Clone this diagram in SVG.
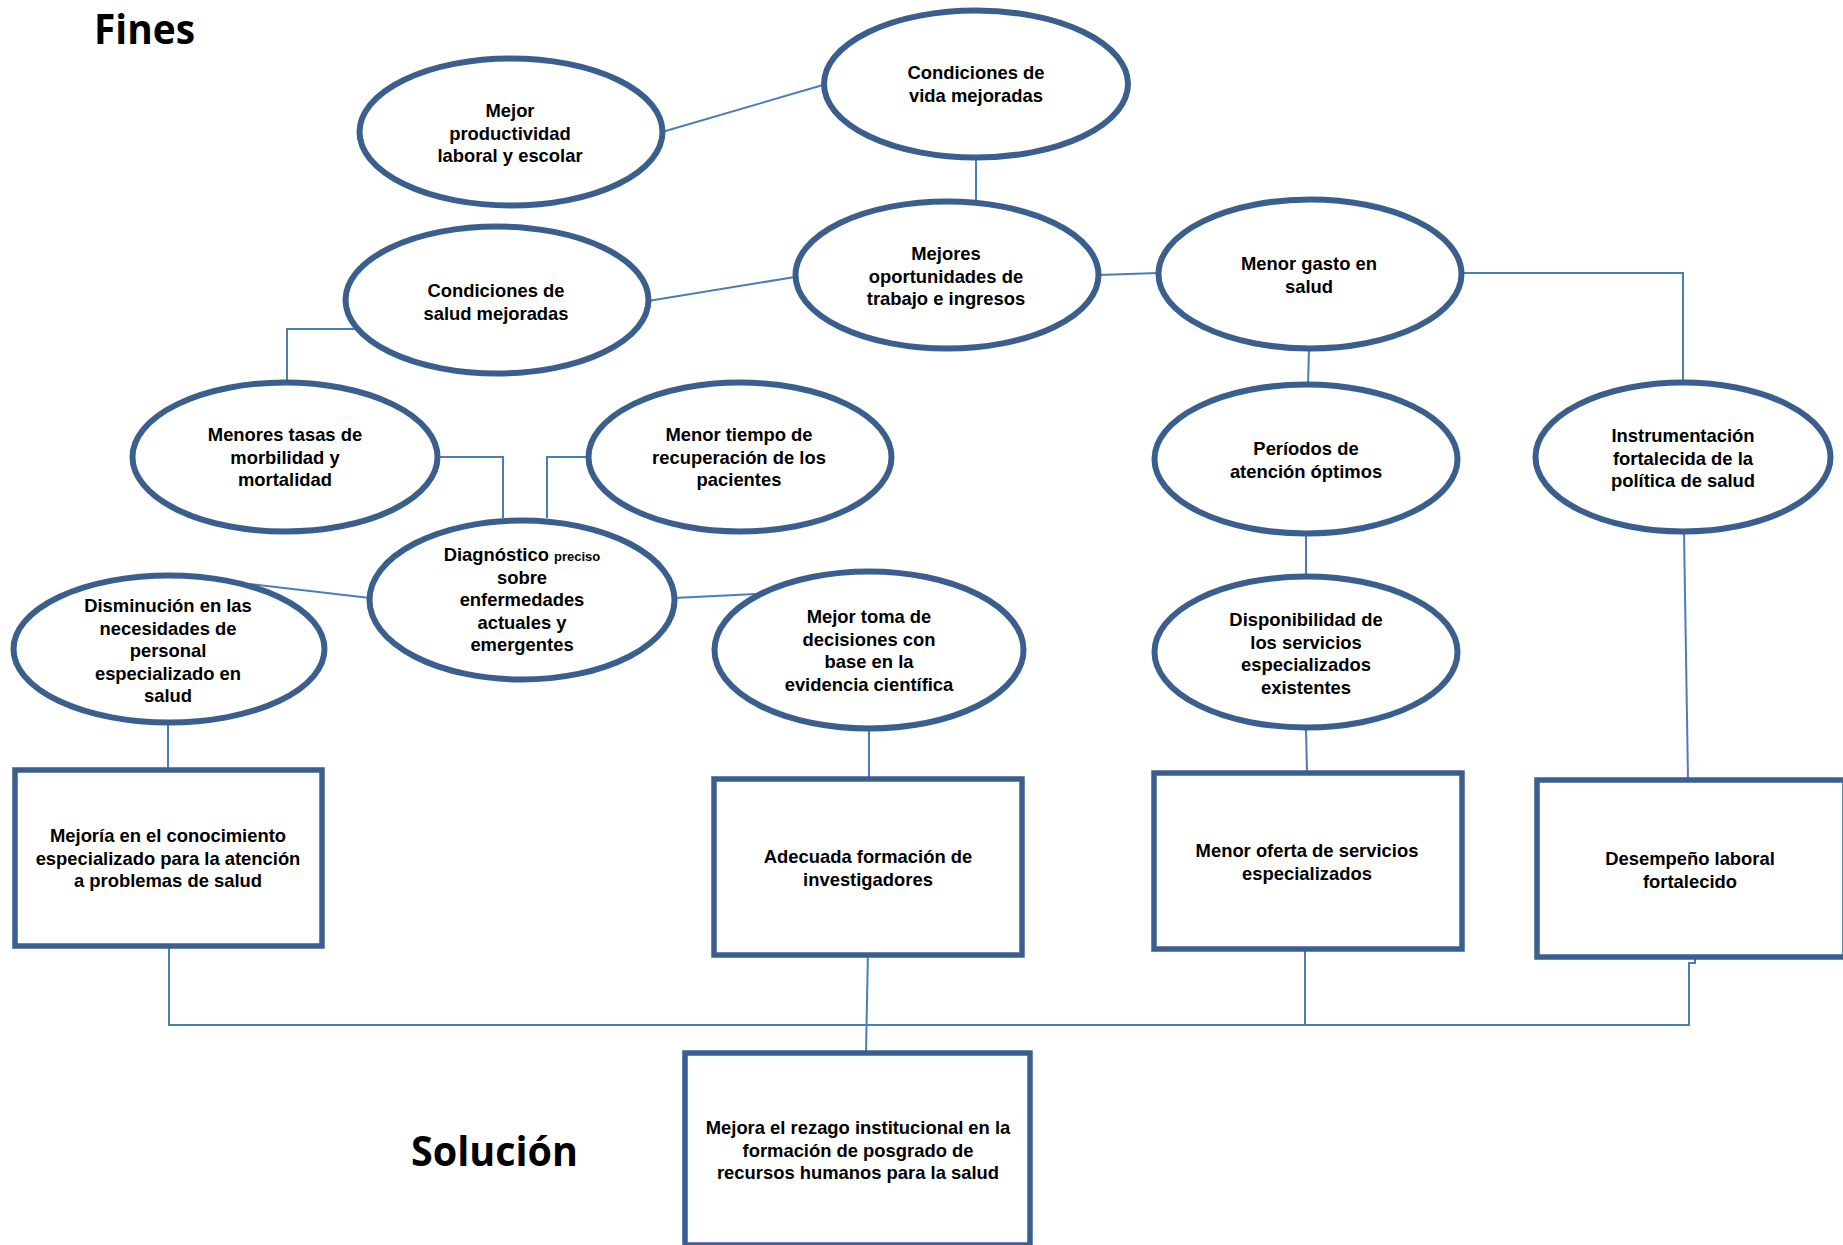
<svg xmlns="http://www.w3.org/2000/svg" width="1843" height="1245" viewBox="0 0 1843 1245">
<style>
.ell{fill:#fff;stroke:#3A5F8F;stroke-width:6}
.box{fill:#fff;stroke:#3A5F8F;stroke-width:5.5}
.conn{fill:none;stroke:#4A7EBB;stroke-width:2}
.t{font-family:"Liberation Sans",Arial,sans-serif;font-weight:bold;font-size:18.4px;text-anchor:middle;fill:#000}
.sm{font-size:13px}
.title{font-family:"Open Sans","Liberation Sans",sans-serif;font-weight:bold;font-size:42px;fill:#000}
</style>
<rect width="1843" height="1245" fill="#fff"/>
<g id="connectors">
<line class="conn" x1="662" y1="132" x2="823" y2="85"/>
<line class="conn" x1="976" y1="157" x2="976" y2="201"/>
<line class="conn" x1="648" y1="301" x2="795" y2="277"/>
<line class="conn" x1="1099" y1="275" x2="1158" y2="273"/>
<polyline class="conn" points="1461,273 1683,273 1683,383"/>
<line class="conn" x1="1309" y1="349" x2="1308" y2="385"/>
<polyline class="conn" points="354,329 287,329 287,383"/>
<polyline class="conn" points="437,457 503,457 503,518"/>
<polyline class="conn" points="588,457 547,457 547,518"/>
<line class="conn" x1="250" y1="584" x2="370" y2="598"/>
<line class="conn" x1="674" y1="598" x2="756" y2="594"/>
<line class="conn" x1="1306" y1="535" x2="1306" y2="577"/>
<line class="conn" x1="1684" y1="532" x2="1688" y2="779"/>
<line class="conn" x1="168" y1="724" x2="168" y2="770"/>
<line class="conn" x1="869" y1="729" x2="869" y2="778"/>
<line class="conn" x1="1306" y1="729" x2="1307" y2="772"/>
<polyline class="conn" points="169,947 169,1025 1689,1025 1689,963 1695,963 1695,959"/>
<line class="conn" x1="1305" y1="951" x2="1305" y2="1025"/>
<line class="conn" x1="868" y1="950" x2="866" y2="1052"/>
</g>
<g id="fines"><text class="title" x="94" y="44" textLength="101" lengthAdjust="spacingAndGlyphs">Fines</text></g>
<g id="solucion"><text class="title" x="411" y="1166" textLength="167" lengthAdjust="spacingAndGlyphs">Solución</text></g>
<g id="n-vida">
<ellipse class="ell" cx="976" cy="84" rx="152" ry="73.5"/>
<text class="t" x="976" y="79">Condiciones de<tspan x="976" dy="22.6">vida mejoradas</tspan></text>
</g>
<g id="n-productividad">
<ellipse class="ell" cx="511" cy="132" rx="151.5" ry="73.5"/>
<text class="t" x="510" y="117">Mejor<tspan x="510" dy="22.6">productividad</tspan><tspan x="510" dy="22.6">laboral y escolar</tspan></text>
</g>
<g id="n-oportunidades">
<ellipse class="ell" cx="947" cy="275" rx="151.5" ry="73.5"/>
<text class="t" x="946" y="260">Mejores<tspan x="946" dy="22.6">oportunidades de</tspan><tspan x="946" dy="22.6">trabajo e ingresos</tspan></text>
</g>
<g id="n-salud">
<ellipse class="ell" cx="497" cy="300" rx="151.5" ry="73.5"/>
<text class="t" x="496" y="297">Condiciones de<tspan x="496" dy="22.6">salud mejoradas</tspan></text>
</g>
<g id="n-gasto">
<ellipse class="ell" cx="1310" cy="274" rx="151.5" ry="74.5"/>
<text class="t" x="1309" y="270">Menor gasto en<tspan x="1309" dy="22.6">salud</tspan></text>
</g>
<g id="n-morbilidad">
<ellipse class="ell" cx="285" cy="457" rx="152.5" ry="74.5"/>
<text class="t" x="285" y="441">Menores tasas de<tspan x="285" dy="22.6">morbilidad y</tspan><tspan x="285" dy="22.6">mortalidad</tspan></text>
</g>
<g id="n-recuperacion">
<ellipse class="ell" cx="740" cy="457" rx="151.5" ry="74.5"/>
<text class="t" x="739" y="441">Menor tiempo de<tspan x="739" dy="22.6">recuperación de los</tspan><tspan x="739" dy="22.6">pacientes</tspan></text>
</g>
<g id="n-periodos">
<ellipse class="ell" cx="1306" cy="459" rx="151.5" ry="74.5"/>
<text class="t" x="1306" y="455">Períodos de<tspan x="1306" dy="22.6">atención óptimos</tspan></text>
</g>
<g id="n-instrumentacion">
<ellipse class="ell" cx="1683" cy="457" rx="147.5" ry="74.5"/>
<text class="t" x="1683" y="442">Instrumentación<tspan x="1683" dy="22.6">fortalecida de la</tspan><tspan x="1683" dy="22.6">política de salud</tspan></text>
</g>
<g id="n-diagnostico">
<ellipse class="ell" cx="522" cy="600" rx="152.5" ry="79.5"/>
<text class="t" x="522" y="561">Diagnóstico <tspan class="sm">preciso</tspan><tspan x="522" dy="22.6">sobre</tspan><tspan x="522" dy="22.6">enfermedades</tspan><tspan x="522" dy="22.6">actuales y</tspan><tspan x="522" dy="22.6">emergentes</tspan></text>
</g>
<g id="n-disminucion">
<ellipse class="ell" cx="169" cy="649" rx="155.5" ry="73.5"/>
<text class="t" x="168" y="612">Disminución en las<tspan x="168" dy="22.6">necesidades de</tspan><tspan x="168" dy="22.6">personal</tspan><tspan x="168" dy="22.6">especializado en</tspan><tspan x="168" dy="22.6">salud</tspan></text>
</g>
<g id="n-decisiones">
<ellipse class="ell" cx="869" cy="650" rx="154.5" ry="78.5"/>
<text class="t" x="869" y="623">Mejor toma de<tspan x="869" dy="22.6">decisiones con</tspan><tspan x="869" dy="22.6">base en la</tspan><tspan x="869" dy="22.6">evidencia científica</tspan></text>
</g>
<g id="n-disponibilidad">
<ellipse class="ell" cx="1306" cy="652" rx="151.5" ry="75.5"/>
<text class="t" x="1306" y="626">Disponibilidad de<tspan x="1306" dy="22.6">los servicios</tspan><tspan x="1306" dy="22.6">especializados</tspan><tspan x="1306" dy="22.6">existentes</tspan></text>
</g>
<g id="n-conocimiento">
<rect class="box" x="15" y="770" width="307" height="176"/>
<text class="t" x="168" y="842">Mejoría en el conocimiento<tspan x="168" dy="22.6">especializado para la atención</tspan><tspan x="168" dy="22.6">a problemas de salud</tspan></text>
</g>
<g id="n-investigadores">
<rect class="box" x="714" y="779" width="308" height="176"/>
<text class="t" x="868" y="863">Adecuada formación de<tspan x="868" dy="22.6">investigadores</tspan></text>
</g>
<g id="n-oferta">
<rect class="box" x="1154" y="773" width="308" height="176"/>
<text class="t" x="1307" y="857">Menor oferta de servicios<tspan x="1307" dy="22.6">especializados</tspan></text>
</g>
<g id="n-desempeno">
<rect class="box" x="1537" y="780" width="308" height="177"/>
<text class="t" x="1690" y="865">Desempeño laboral<tspan x="1690" dy="22.6">fortalecido</tspan></text>
</g>
<g id="n-rezago">
<rect class="box" x="685" y="1053" width="345" height="192"/>
<text class="t" x="858" y="1134">Mejora el rezago institucional en la<tspan x="858" dy="22.6">formación de posgrado de</tspan><tspan x="858" dy="22.6">recursos humanos para la salud</tspan></text>
</g>
</svg>
